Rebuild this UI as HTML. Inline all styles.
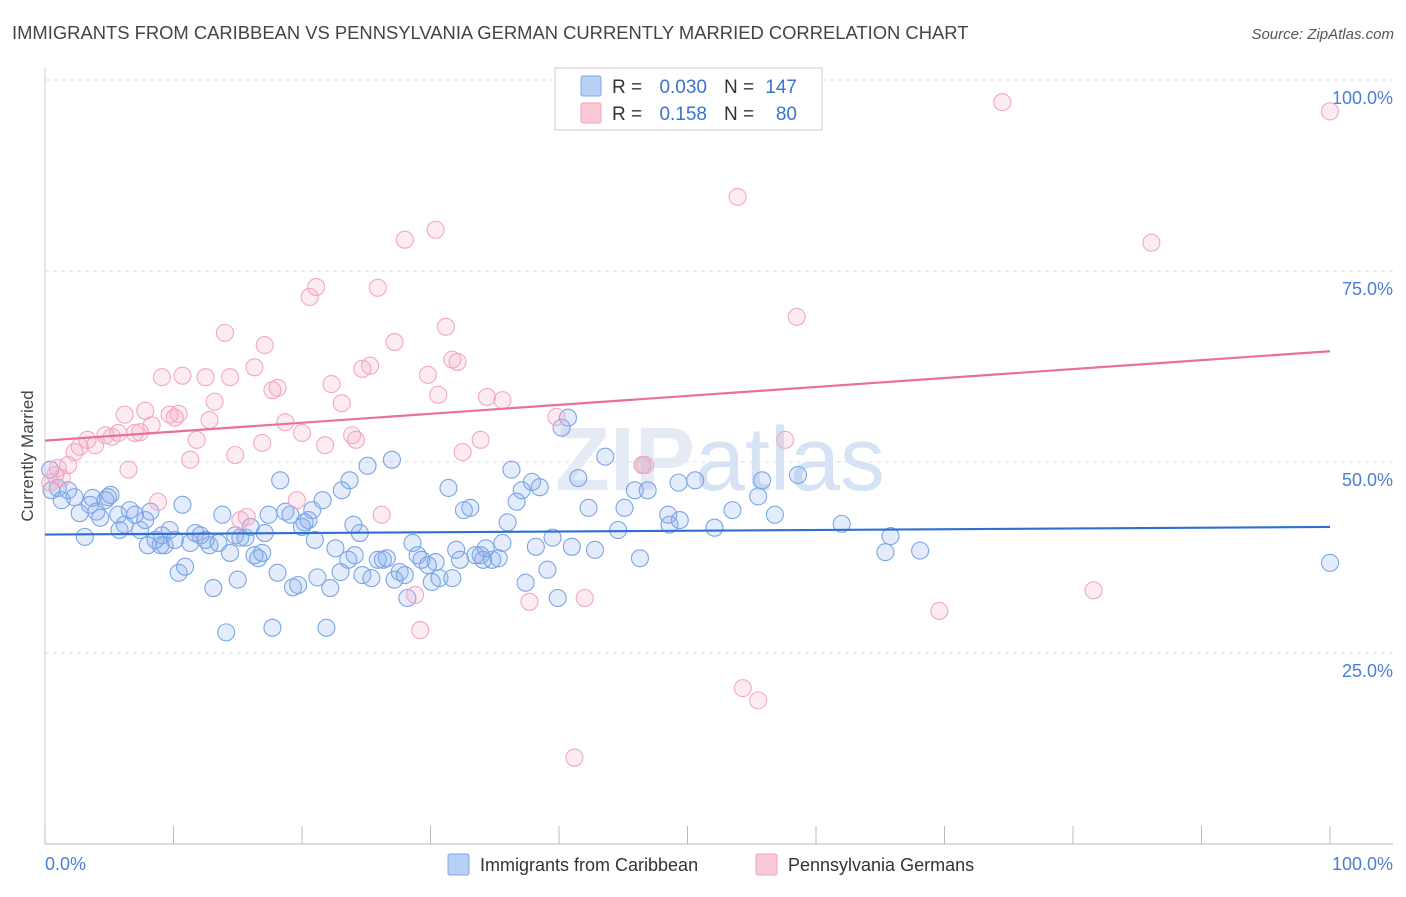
<!DOCTYPE html>
<html><head><meta charset="utf-8"><style>
body{margin:0;background:#fff;font-family:"Liberation Sans",sans-serif;}
svg text{font-family:"Liberation Sans",sans-serif;}
</style></head><body>
<svg id="chart" width="1406" height="892" xmlns="http://www.w3.org/2000/svg">
<text x="12" y="39" font-size="18.4" fill="#444">IMMIGRANTS FROM CARIBBEAN VS PENNSYLVANIA GERMAN CURRENTLY MARRIED CORRELATION CHART</text>
<text x="1394" y="39" font-size="15" fill="#555" text-anchor="end" font-style="italic">Source: ZipAtlas.com</text>
<text transform="translate(33,456) rotate(-90)" font-size="17" fill="#444" text-anchor="middle">Currently Married</text>
<g id="grid"></g>
<text x="720" y="490" font-size="90" fill="#e4ebf5" text-anchor="middle" font-weight="bold">ZIP<tspan fill="#d6e3f5" font-weight="normal">atlas</tspan></text>
<g id="marks"></g>
<g id="trends"></g>
<g>
<rect x="555" y="68" width="267" height="62" fill="#fff" stroke="#ccc"/>
<rect x="581" y="76" width="20" height="20" fill="#b8d0f5" stroke="#7fa8e8" rx="2"/>
<rect x="581" y="103" width="20" height="20" fill="#fbcad8" stroke="#f0a0bc" rx="2"/>
<text x="612" y="93" font-size="19" fill="#333">R =</text>
<text x="707" y="93" font-size="19" fill="#3a72d0" text-anchor="end">0.030</text>
<text x="724" y="93" font-size="19" fill="#333">N =</text>
<text x="797" y="93" font-size="19" fill="#3a72d0" text-anchor="end">147</text>
<text x="612" y="120" font-size="19" fill="#333">R =</text>
<text x="707" y="120" font-size="19" fill="#3a72d0" text-anchor="end">0.158</text>
<text x="724" y="120" font-size="19" fill="#333">N =</text>
<text x="797" y="120" font-size="19" fill="#3a72d0" text-anchor="end">80</text>
</g>
<g>
<rect x="448" y="854" width="21" height="21" fill="#b8d0f5" stroke="#7fa8e8" rx="2"/>
<text x="480" y="871" font-size="18" fill="#333">Immigrants from Caribbean</text>
<rect x="756" y="854" width="21" height="21" fill="#fbcad8" stroke="#f0a0bc" rx="2"/>
<text x="788" y="871" font-size="18" fill="#333">Pennsylvania Germans</text>
</g>
</svg>
<script>
const blueX=[0.4,0.5,1.0,1.3,1.8,2.3,2.7,3.1,3.5,3.7,4.0,4.3,4.7,4.9,5.1,5.7,5.8,6.2,6.6,7.0,7.4,7.8,8.0,8.2,8.6,9.0,9.1,9.3,9.7,10.1,10.4,10.7,10.9,11.3,11.7,12.1,12.5,12.8,13.1,13.5,13.8,14.1,14.4,14.8,15.0,15.2,15.6,16.0,16.3,16.6,16.9,17.1,17.4,17.7,18.1,18.3,18.7,19.1,19.3,19.7,20.0,20.2,20.5,20.8,21.0,21.2,21.6,21.9,22.2,22.6,23.0,23.1,23.6,23.7,24.0,24.1,24.5,24.7,25.1,25.4,25.9,26.3,26.6,27.0,27.2,27.6,28.0,28.2,28.6,29.0,29.3,29.8,30.1,30.4,30.7,31.4,31.7,32.0,32.3,32.6,33.1,33.5,33.9,34.1,34.3,34.8,35.3,35.6,36.0,36.3,36.7,37.1,37.4,37.9,38.2,38.5,39.1,39.5,39.9,40.2,40.7,41.0,41.5,42.3,42.8,43.6,44.6,45.1,45.9,46.3,46.5,46.9,48.5,48.6,49.4,49.3,50.6,52.1,53.5,55.5,55.8,56.8,58.6,62.0,65.4,65.8,68.1,100];
const blueY=[49.0,46.3,46.6,45.0,46.3,45.4,43.3,40.2,44.4,45.3,43.5,42.7,45.0,45.4,45.7,43.1,41.1,41.8,43.7,43.1,41.1,42.4,39.1,43.5,39.8,39.1,40.4,39.1,41.1,39.8,35.5,44.4,36.3,39.4,40.7,40.4,39.8,39.1,33.5,39.4,43.1,27.7,38.1,40.4,34.6,40.1,40.1,41.5,37.8,37.4,38.1,40.7,43.1,28.3,35.5,47.6,43.5,43.1,33.6,33.9,41.5,42.1,42.4,43.7,39.8,34.9,45.0,28.3,33.5,38.7,35.6,46.3,37.2,47.6,41.8,37.8,40.7,35.2,49.5,34.8,37.2,37.2,37.4,50.3,34.6,35.6,35.2,32.2,39.4,37.8,37.2,36.5,34.3,36.9,34.8,46.6,34.8,38.5,37.2,43.7,44.0,37.8,37.8,37.2,38.7,37.2,37.4,39.4,42.1,49.0,44.8,46.3,34.2,47.4,38.9,46.7,35.9,40.1,32.2,54.5,55.8,38.9,47.9,44.0,38.5,50.7,41.1,44.0,46.3,37.4,49.6,46.3,43.1,41.8,42.4,47.3,47.6,41.4,43.7,45.5,47.6,43.1,48.3,41.9,38.2,40.3,38.4,36.8];
const pinkX=[0.4,0.8,1.0,1.3,1.8,2.3,2.7,3.3,3.9,4.7,5.2,5.7,6.2,6.5,7.0,7.4,7.8,8.3,8.8,9.1,9.7,10.1,10.4,10.7,11.3,11.8,12.5,12.8,13.2,14.0,14.4,14.8,15.2,15.7,16.3,16.9,17.1,17.7,18.1,18.7,19.6,20.0,20.6,21.1,21.8,22.3,23.1,23.9,24.2,24.7,25.3,25.9,26.2,27.2,28.0,28.8,29.2,29.8,30.4,30.6,31.2,31.7,32.1,32.5,33.9,34.4,35.6,37.7,39.8,41.2,42.0,46.5,46.7,49.9,53.9,54.3,55.5,57.6,58.5,69.6,74.5,81.6,86.1,100];
const pinkY=[47.3,48.3,49.2,47.9,49.6,51.3,52.0,52.9,52.2,53.5,53.3,53.8,56.2,49.0,53.8,53.9,56.7,54.8,44.8,61.1,56.2,55.8,56.3,61.3,50.3,52.9,61.1,55.5,57.9,66.9,61.1,50.9,42.4,42.8,62.4,52.5,65.3,59.4,59.7,55.2,45.0,53.8,71.6,72.9,52.2,60.2,57.7,53.5,52.9,62.2,62.6,72.8,43.1,65.7,79.1,32.6,28.0,61.4,80.4,58.8,67.7,63.4,63.1,51.3,52.9,58.5,58.1,31.7,55.9,11.3,32.2,49.6,49.6,100,84.7,20.4,18.8,52.9,69.0,30.5,97.1,33.2,78.7,95.9];
const blueTrend=[40.5,41.5];
const pinkTrend=[52.8,64.5];
const yTicks=[25,50,75,100];
const yTickLabels=["25.0%","50.0%","75.0%","100.0%"];
const xTickCount=10;

const NS="http://www.w3.org/2000/svg";
const sx=v=>45+v*12.85;
const sy=v=>844-v*7.64;
function mk(tag,attrs,parent){const e=document.createElementNS(NS,tag);for(const k in attrs)e.setAttribute(k,attrs[k]);parent.appendChild(e);return e;}
const grid=document.getElementById('grid');
yTicks.forEach((t,i)=>{
  const l=mk('line',{x1:45,x2:1393,y1:sy(t),y2:sy(t),stroke:'#ddd','stroke-dasharray':'4,4'},grid);
  
  
  const tx=mk('text',{x:1393,y:sy(t)+24,'font-size':18,fill:'#4a7fd6','text-anchor':'end'},grid);
  tx.textContent=yTickLabels[i];
  
  
});
const ax=mk('line',{x1:45,x2:1393,y1:844,y2:844,stroke:'#bbb'},grid);


const ay=mk('line',{x1:45,x2:45,y1:68,y2:844,stroke:'#ccc'},grid);


for(let i=0;i<=xTickCount;i++){
  const t=mk('line',{x1:sx(i*10),x2:sx(i*10),y1:826,y2:844,stroke:'#bbb'},grid);
  
  
}
const xl0=mk('text',{x:45,y:870,'font-size':18,fill:'#4a7fd6'},grid);xl0.textContent='0.0%';


const xl1=mk('text',{x:1393,y:870,'font-size':18,fill:'#4a7fd6','text-anchor':'end'},grid);xl1.textContent='100.0%';


const marks=document.getElementById('marks');
blueX.forEach((x,i)=>{
  const c=mk('circle',{cx:sx(x),cy:sy(blueY[i]),r:8.5,fill:'rgba(130,170,235,0.22)',stroke:'#7aa6e4','stroke-width':1.1},marks);
  
  
});
pinkX.forEach((x,i)=>{
  const c=mk('circle',{cx:sx(x),cy:sy(pinkY[i]),r:8.5,fill:'rgba(245,165,195,0.22)',stroke:'#f2a8c2','stroke-width':1.1},marks);
  
  
});
const tr=document.getElementById('trends');
const bl=mk('line',{x1:sx(0),x2:sx(100),y1:sy(blueTrend[0]),y2:sy(blueTrend[1]),stroke:'#2f6fd0','stroke-width':2.2},tr);


const pl=mk('line',{x1:sx(0),x2:sx(100),y1:sy(pinkTrend[0]),y2:sy(pinkTrend[1]),stroke:'#e8709a','stroke-width':2.2},tr);


</script>
</body></html>
